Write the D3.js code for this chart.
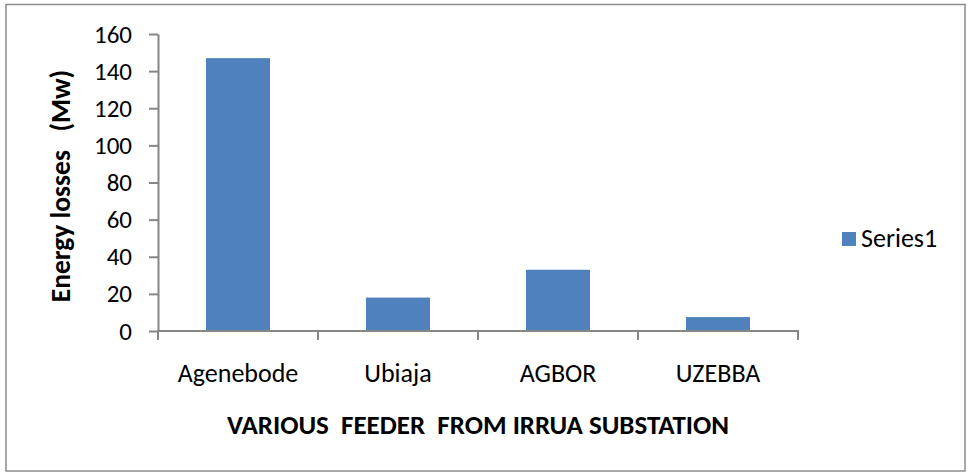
<!DOCTYPE html>
<html><head><meta charset="utf-8">
<script src="https://cdn.jsdelivr.net/npm/d3@7"></script>
<style>body{margin:0;background:#fff}svg{display:block}text{font-family:Carlito,Calibri,Lato,sans-serif;fill:#000}</style>
</head><body>
<svg id="c" width="968" height="473"></svg>
<script>
const categories = ["Agenebode", "Ubiaja", "AGBOR", "UZEBBA"];
const values = [147, 18, 33, 7.5];
const yTicks = [0, 20, 40, 60, 80, 100, 120, 140, 160];
const seriesName = "Series1";
const xTitle = "VARIOUS\u00a0 FEEDER\u00a0 FROM IRRUA SUBSTATION";
const yTitle = "Energy losses\u00a0\u00a0 (Mw)";

const svg = d3.select("#c");
const axisColor = "#868686";
const barColor = "#4F81BD";

svg.append("rect").attr("x", 6).attr("y", 4.5).attr("width", 959).attr("height", 466.5)
  .attr("fill", "#fff").attr("stroke", "#8c8c8c").attr("stroke-width", 1.5);

const x = d3.scaleBand().domain(categories).range([158, 798]).paddingInner(0.6).paddingOuter(0.3);
const xb = d3.scaleBand().domain(categories).range([158, 798]);
const y = d3.scaleLinear().domain([0, 160]).range([331, 34]);

// bars
svg.selectAll("rect.bar").data(values).enter().append("rect").attr("class", "bar")
  .attr("x", (d, i) => x(categories[i])).attr("width", x.bandwidth())
  .attr("y", d => y(d)).attr("height", d => y(0) - y(d)).attr("fill", barColor);

// y axis
const ya = svg.append("g").attr("transform", "translate(158,0)")
  .call(d3.axisLeft(y).tickValues(yTicks).tickSize(9).tickSizeOuter(0).tickPadding(17));
ya.select(".domain").attr("stroke", axisColor).attr("stroke-width", 2);
ya.selectAll(".tick line").attr("stroke", axisColor).attr("stroke-width", 2);
ya.selectAll("text").style("font-size", "25px").attr("fill", "#000");

// x axis
const xa = svg.append("g").attr("transform", "translate(0,331)")
  .call(d3.axisBottom(xb).tickSize(0).tickPadding(0));
xa.select(".domain").remove();
xa.selectAll(".tick line").remove();
xa.append("line").attr("x1", 157).attr("x2", 799).attr("y1", 0).attr("y2", 0)
  .attr("stroke", axisColor).attr("stroke-width", 2);
const bounds = categories.map(c => xb(c)).concat([xb(categories[categories.length - 1]) + xb.bandwidth()]);
xa.selectAll("line.sep").data(bounds).enter().append("line").attr("class", "sep")
  .attr("x1", d => d).attr("x2", d => d).attr("y1", 0).attr("y2", 9)
  .attr("stroke", axisColor).attr("stroke-width", 2);
xa.selectAll(".tick text").attr("dy", 0).attr("y", 51).style("font-size", "26px").attr("fill", "#000");

// titles
svg.append("text").attr("x", 478).attr("y", 434).attr("text-anchor", "middle")
  .style("font-size", "27px").style("font-weight", "bold").text(xTitle);
svg.append("text").attr("transform", "translate(70,186) rotate(-90)").attr("text-anchor", "middle")
  .style("font-size", "27.5px").style("font-weight", "bold").text(yTitle);

// legend
svg.append("rect").attr("x", 842).attr("y", 232).attr("width", 14).attr("height", 14).attr("fill", barColor);
svg.append("text").attr("x", 861).attr("y", 247).style("font-size", "26px").text(seriesName);
</script>
</body></html>
